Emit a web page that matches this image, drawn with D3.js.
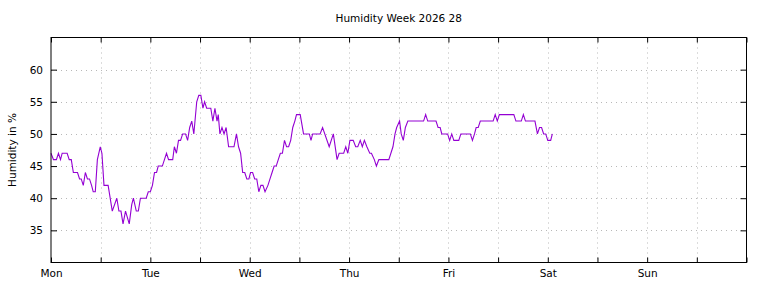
<!DOCTYPE html>
<html><head><meta charset="utf-8">
<script src="https://cdn.jsdelivr.net/npm/d3@7"></script>
<style>body{margin:0;background:#fff}svg{display:block}</style>
</head><body><svg id="c" width="768" height="288"></svg>
<script>
const title = "Humidity Week 2026 28";
const yLabel = "Humidity in %";
const dayLabels = ["Mon","Tue","Wed","Thu","Fri","Sat","Sun"];
const yTicks = [35,40,45,50,55,60];
const xTicks = [0,12,24,36,48,60,72,84,96,108,120,132,144,156,168];
// hours since Monday 00:00
const hours = [0,0.6,1.3,1.8,2.3,2.7,3.9,4.4,4.9,5.4,6.4,6.9,7.3,7.8,8.3,8.8,9.3,9.8,10.2,10.7,11.2,11.9,12.3,12.8,13.8,14.8,15.9,16.4,16.9,17.4,18.0,18.9,19.5,19.9,20.6,21.1,21.6,23.0,23.5,24.0,24.5,25.0,25.5,25.9,26.9,27.4,27.9,28.4,29.4,29.8,30.3,30.8,31.3,31.8,32.5,33.0,33.5,34.0,34.5,35.2,35.7,36.2,36.7,37.1,37.6,38.6,39.1,39.6,40.1,40.4,40.8,41.3,41.8,42.3,42.9,44.2,44.8,45.3,45.8,46.3,46.8,47.3,47.8,48.2,48.7,49.2,49.7,50.2,50.7,51.2,51.7,52.4,52.9,53.4,53.9,54.4,54.9,55.4,55.9,56.4,56.9,57.4,57.9,58.4,58.9,59.3,60.2,61.0,62.4,62.8,63.2,65.0,65.6,67.2,68.2,69.1,69.6,70.7,71.2,71.7,72.2,73.0,73.6,74.1,74.7,75.2,75.7,76.3,77.0,77.4,78.1,78.6,79.2,81.6,82.1,82.6,83.1,83.5,84.2,84.6,85.1,85.6,86.2,90.0,90.5,91.0,93.0,93.5,94.0,94.4,95.8,96.3,96.8,97.3,98.5,99.0,101.3,101.8,102.3,102.7,103.2,103.7,106.8,107.3,107.8,108.3,111.8,112.3,113.6,114.1,114.6,116.9,117.5,118.0,118.5,119.0,119.5,120.0,120.7,121.1];
const humidity = [47,46,46,47,46,47,47,46,46,44,44,43,43,42,44,43,43,42,41,41,46,48,47,42,42,38,40,38,38,36,38,36,39,40,38,38,40,40,41,41,42,44,44,45,45,46,47,46,46,48,47,49,49,50,50,49,51,52,50,55,56,56,54,55,54,54,52,54,52,53,50,51,50,51,48,48,50,48,47,44,44,43,43,44,44,43,43,41,42,42,41,42,43,44,45,45,46,47,47,49,48,48,49,51,52,53,53,50,50,49,50,50,51,48,50,46,47,47,48,47,49,49,48,48,49,48,49,48,47,47,46,45,46,46,47,48,50,51,52,50,49,51,52,52,53,52,52,51,51,50,50,49,50,49,49,50,50,49,50,51,51,52,52,53,52,53,53,52,52,53,52,52,50,51,51,50,50,49,49,50];

const W = 768, H = 288;
const L = 51, R = 746.5, T = 37.5, B = 262.5;
const svg = d3.select("#c");
const font = "DejaVu Sans, sans-serif";

const x = d3.scaleLinear().domain([0,168]).range([L,R]);
const y = d3.scaleLinear().domain([30,65]).range([B,T]);

// grid
const grid = svg.append("g").attr("stroke","#b8b8b8").attr("stroke-width",1).attr("stroke-dasharray","1,4");
grid.selectAll("line.v").data(xTicks.filter(d=>d>0&&d<168)).join("line")
  .attr("x1",d=>Math.round(x(d))+0.5).attr("x2",d=>Math.round(x(d))+0.5).attr("y1",T).attr("y2",B);
grid.selectAll("line.h").data(yTicks).join("line")
  .attr("y1",d=>Math.round(y(d))+0.5).attr("y2",d=>Math.round(y(d))+0.5).attr("x1",L).attr("x2",R);

// data line
const pts = hours.map((h,i)=>[h,humidity[i]]);
svg.append("path").datum(pts)
  .attr("fill","none").attr("stroke","#9400d3").attr("stroke-width",1.1)
  .attr("d", d3.line().x(d=>x(d[0])).y(d=>y(d[1])));

// axes
function styleAxis(g){
  g.select(".domain").remove();
  g.selectAll(".tick line").attr("stroke","#000");
  g.selectAll(".tick text").attr("fill","#000").style("font-family",font).style("font-size","10.5px");
}
svg.append("g").attr("transform",`translate(0,${B})`)
  .call(d3.axisBottom(x).tickValues(xTicks).tickSize(-5).tickPadding(7)
    .tickFormat(d => (d%24===0 && d<168) ? dayLabels[d/24] : ""))
  .call(styleAxis);
svg.append("g").attr("transform",`translate(0,${T})`)
  .call(d3.axisTop(x).tickValues(xTicks).tickSize(-5).tickFormat(""))
  .call(styleAxis);
svg.append("g").attr("transform",`translate(${L},0)`)
  .call(d3.axisLeft(y).tickValues(yTicks).tickSize(-6).tickPadding(8))
  .call(styleAxis);
svg.append("g").attr("transform",`translate(${R},0)`)
  .call(d3.axisRight(y).tickValues(yTicks).tickSize(-6).tickFormat(""))
  .call(styleAxis);

// border
svg.append("rect").attr("x",L).attr("y",T).attr("width",R-L).attr("height",B-T)
  .attr("fill","none").attr("stroke","#000").attr("stroke-width",1);

// title
svg.append("text").attr("x",(L+R)/2).attr("y",22).attr("text-anchor","middle")
  .style("font-family",font).style("font-size","10.5px").attr("fill","#000").text(title);
// y label
svg.append("text").attr("transform",`translate(16,${(T+B)/2}) rotate(-90)`)
  .attr("text-anchor","middle").style("font-family",font).style("font-size","10.5px")
  .attr("fill","#000").text(yLabel);
</script>
</body></html>
